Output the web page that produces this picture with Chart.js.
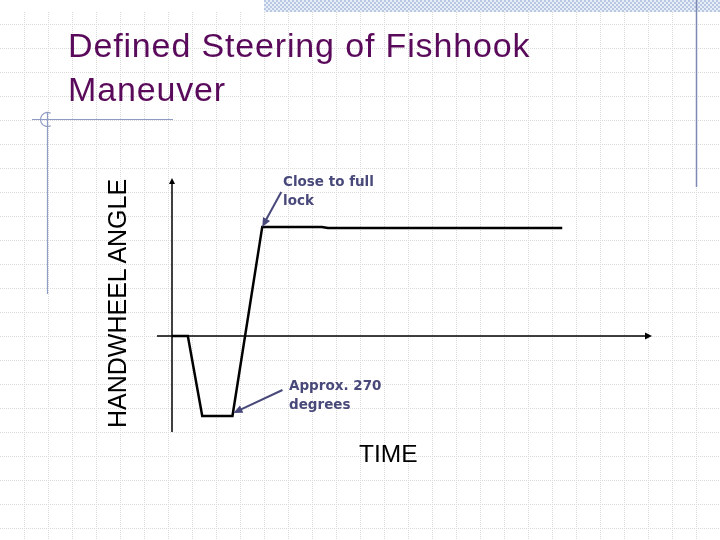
<!DOCTYPE html>
<html>
<head>
<meta charset="utf-8">
<script src="https://cdn.jsdelivr.net/npm/chart.js@4/dist/chart.umd.min.js"></script>
<style>
  body { margin: 0; background: #fff; }
  #slide { position: relative; width: 720px; height: 540px; overflow: hidden; }
  #myChart { position: absolute; left: 0; top: 0; }
  .txt { position: absolute; white-space: nowrap; }
  #title { left: 68px; top: 23px; font: 34px "Liberation Sans", Arial, sans-serif; line-height: 44px; color: #5a0a5a; letter-spacing: 0.85px; }
  #ytitle { left: 105px; top: 428px; font: 25px "Liberation Sans", Arial, sans-serif; line-height: 25px; color: #000;
            transform: rotate(-90deg); transform-origin: 0 0; }
  #xtitle { left: 359px; top: 442px; font: 24.5px "Liberation Sans", Arial, sans-serif; line-height: 24.5px; color: #000; }
  .note { font: bold 13.5px "DejaVu Sans", Verdana, sans-serif; line-height: 19px; color: #48487a; }
  #note1 { left: 283px; top: 172px; }
  #note2 { left: 289px; top: 376px; }
</style>
</head>
<body>
<div id="slide">
  <canvas id="myChart" width="720" height="540"></canvas>
  <div id="title" class="txt">Defined Steering of Fishhook<br>Maneuver</div>
  <div id="ytitle" class="txt">HANDWHEEL ANGLE</div>
  <div id="xtitle" class="txt">TIME</div>
  <div id="note1" class="txt note">Close to full<br>lock</div>
  <div id="note2" class="txt note">Approx. 270<br>degrees</div>
</div>
<script>
// time (s) and handwheel angle (deg)
var timeValues = [0, 0.33, 0.63, 1.26, 1.88, 3.12, 3.25, 8.13];
var angleValues = [0, 0, -270, -270, 368, 368, 364, 364];

// which point each callout arrow points at, and where its tail sits
var notePoints = [4, 3];
var noteTails = [[19, -35], [50, -26]];

var points = [];
for (var i = 0; i < timeValues.length; i++) {
  points.push({ x: timeValues[i], y: angleValues[i] });
}

function arrow(ctx, x1, y1, x2, y2, color, width, len, half) {
  var a = Math.atan2(y2 - y1, x2 - x1);
  ctx.strokeStyle = color;
  ctx.fillStyle = color;
  ctx.lineWidth = width;
  ctx.beginPath();
  ctx.moveTo(x1, y1);
  ctx.lineTo(x2 - Math.cos(a) * len * 0.8, y2 - Math.sin(a) * len * 0.8);
  ctx.stroke();
  ctx.beginPath();
  ctx.moveTo(x2, y2);
  ctx.lineTo(x2 - Math.cos(a) * len - Math.sin(a) * half, y2 - Math.sin(a) * len + Math.cos(a) * half);
  ctx.lineTo(x2 - Math.cos(a) * len + Math.sin(a) * half, y2 - Math.sin(a) * len - Math.cos(a) * half);
  ctx.closePath();
  ctx.fill();
}

var slidePlugin = {
  id: 'slide',
  beforeDraw: function (chart) {
    var ctx = chart.ctx;
    var w = chart.width, h = chart.height;
    ctx.save();
    ctx.fillStyle = '#fff';
    ctx.fillRect(0, 0, w, h);

    // checkered band at the top
    var pc = document.createElement('canvas');
    pc.width = 4; pc.height = 4;
    var p = pc.getContext('2d');
    p.fillStyle = '#e8eef8';
    p.fillRect(0, 0, 4, 4);
    p.fillStyle = '#b9c8e2';
    p.fillRect(0, 0, 2, 2);
    p.fillRect(2, 2, 2, 2);
    ctx.fillStyle = ctx.createPattern(pc, 'repeat');
    ctx.fillRect(264, 0, w - 264, 12);

    // dotted slide grid
    ctx.strokeStyle = '#dadada';
    ctx.lineWidth = 1;
    ctx.setLineDash([1, 1]);
    ctx.beginPath();
    for (var x = 24; x < w; x += 24) {
      ctx.moveTo(x + 0.5, 12); ctx.lineTo(x + 0.5, h);
    }
    for (var y = 24; y < h; y += 24) {
      ctx.moveTo(0, y + 0.5); ctx.lineTo(w, y + 0.5);
    }
    ctx.stroke();
    ctx.setLineDash([]);

    // slide decoration lines
    ctx.strokeStyle = '#8e9bc2';
    ctx.lineWidth = 1.2;
    ctx.beginPath();
    ctx.moveTo(32, 119.5); ctx.lineTo(173, 119.5);
    ctx.moveTo(47.5, 112); ctx.lineTo(47.5, 294);
    ctx.stroke();
    ctx.beginPath();
    ctx.arc(47.5, 119.5, 7, Math.PI * 0.35, Math.PI * 1.65);
    ctx.stroke();
    ctx.strokeStyle = '#7c89b2';
    ctx.lineWidth = 1.5;
    ctx.beginPath();
    ctx.moveTo(696.5, 0); ctx.lineTo(696.5, 187);
    ctx.stroke();
    ctx.restore();
  },
  beforeDatasetsDraw: function (chart) {
    var ctx = chart.ctx;
    var area = chart.chartArea;
    var x0 = chart.scales.x.getPixelForValue(0);
    var y0 = chart.scales.y.getPixelForValue(0);
    ctx.save();
    arrow(ctx, x0, area.bottom, x0, area.top, '#000', 1.5, 6, 3);
    arrow(ctx, x0 - 15, y0, area.right, y0, '#000', 1.5, 7, 3.5);
    ctx.restore();
  },
  afterDatasetsDraw: function (chart) {
    var ctx = chart.ctx;
    ctx.save();
    for (var i = 0; i < notePoints.length; i++) {
      var pt = chart.getDatasetMeta(0).data[notePoints[i]];
      var tx = pt.x + (i == 1 ? 1 : 0);
      var ty = pt.y + (i == 1 ? -3 : 0);
      arrow(ctx, pt.x + noteTails[i][0], pt.y + noteTails[i][1], tx, ty, '#48487a', 2, 9, 4);
    }
    ctx.restore();
  }
};

var ctx = document.getElementById('myChart').getContext('2d');
var myChart = new Chart(ctx, {
  type: 'line',
  data: {
    datasets: [
      {
        data: points,
        borderColor: '#000',
        borderWidth: 2.5,
        pointRadius: 0,
        tension: 0,
        fill: false,
      },
    ],
  },
  options: {
    responsive: false,
    animation: false,
    devicePixelRatio: 1,
    layout: { padding: { left: 172, top: 178, right: 68, bottom: 108 } },
    scales: {
      x: { type: 'linear', min: 0, max: 10, display: false },
      y: { min: -324, max: 533, display: false },
    },
    plugins: {
      legend: { display: false },
      tooltip: { enabled: false },
    },
  },
  plugins: [slidePlugin],
});
</script>
</body>
</html>
